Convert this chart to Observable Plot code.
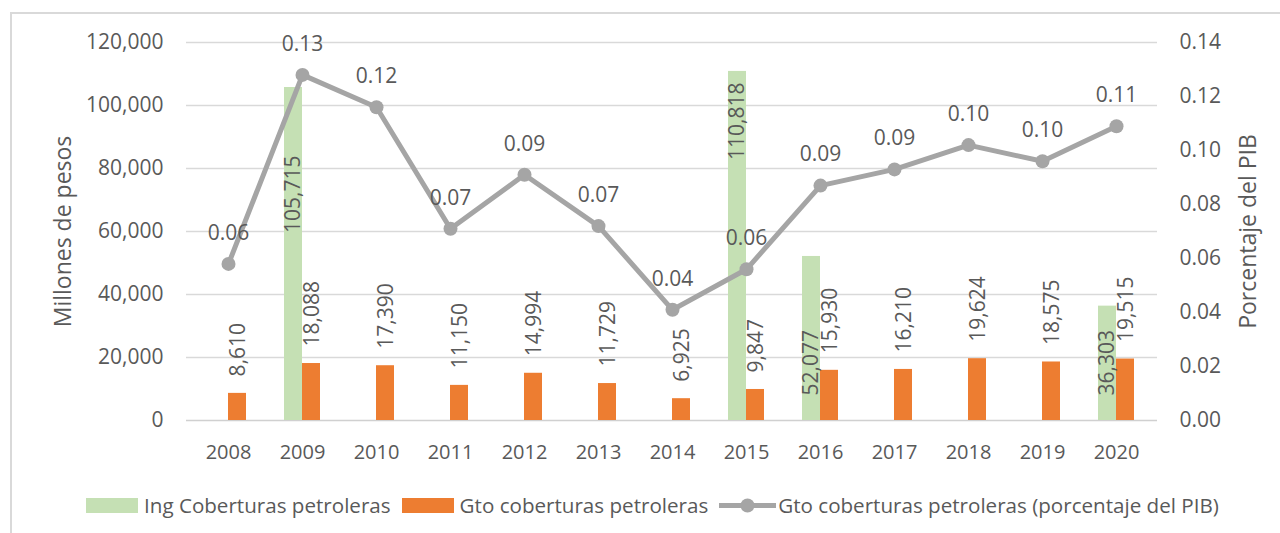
<!DOCTYPE html>
<html>
<head>
<meta charset="utf-8">
<script src="https://cdn.jsdelivr.net/npm/d3@7"></script>
<script src="https://cdn.jsdelivr.net/npm/@observablehq/plot@0.6"></script>
<style>
  html, body { margin: 0; padding: 0; background: #fff; }
  body { width: 1280px; height: 533px; position: relative; overflow: hidden; font-family: "Open Sans", sans-serif; }
  #frame { position: absolute; left: 10px; top: 12px; width: 1400px; height: 600px; border-top: 2px solid #d9d9d9; border-left: 2px solid #d9d9d9; }
  #chart { position: absolute; left: 0; top: 0; }
  #legend { position: absolute; left: 86px; top: 490px; height: 30px; display: flex; align-items: center; font-size: 20.6px; color: #595959; white-space: nowrap; }
  .item { display: flex; align-items: center; margin-right: 11px; }
  .sw { width: 52px; height: 15px; margin-right: 6px; }
  .lsw { width: 57px; height: 15px; margin-right: 2px; }
</style>
</head>
<body>
<div id="frame"></div>
<div id="chart"></div>
<div id="legend"></div>
<script>
const years = [2008, 2009, 2010, 2011, 2012, 2013, 2014, 2015, 2016, 2017, 2018, 2019, 2020];
const ingCoberturas = [null, 105715, null, null, null, null, null, 110818, 52077, null, null, null, 36303];
const gtoCoberturas = [8610, 18088, 17390, 11150, 14994, 11729, 6925, 9847, 15930, 16210, 19624, 18575, 19515];
const gtoPctPIB = [0.058, 0.128, 0.116, 0.071, 0.091, 0.072, 0.041, 0.056, 0.087, 0.093, 0.102, 0.096, 0.109];
const pesosTicks = [0, 20000, 40000, 60000, 80000, 100000, 120000];
const pctTicks = [0, 0.02, 0.04, 0.06, 0.08, 0.10, 0.12, 0.14];
const seriesNames = ["Ing Coberturas petroleras", "Gto coberturas petroleras", "Gto coberturas petroleras (porcentaje del PIB)"];
const colors = ["#c5e0b4", "#ed7d31", "#a5a5a5"];

const K = 120000 / 0.14; // right-axis scale factor
const fmt = d3.format(",");
const ing = years.map((y, i) => ({year: y, v: ingCoberturas[i]})).filter(d => d.v != null);
const gto = years.map((y, i) => ({year: y, v: gtoCoberturas[i]}));
const pct = years.map((y, i) => ({year: y, p: gtoPctPIB[i], v: gtoPctPIB[i] * K}));

// Excel-like label placement for the tall "Ing" bars
const insideBase = new Set([2016, 2020]);
const shifted = new Set([2009]);
const ingTop = ing.filter(d => !insideBase.has(d.year) && !shifted.has(d.year));
const ingShift = ing.filter(d => shifted.has(d.year));
const ingBase = ing.filter(d => insideBase.has(d.year));

const font = 21;
const textFill = "#595959";

const plot = Plot.plot({
  width: 1280,
  height: 470,
  marginTop: 42,
  marginBottom: 50,
  marginLeft: 186,
  marginRight: 123,
  style: {fontFamily: "Open Sans, sans-serif", fontSize: font + "px", color: textFill, background: "transparent"},
  x: {type: "band", domain: years, paddingInner: 0.76, paddingOuter: 0.38},
  y: {domain: [0, 120000]},
  marks: [
    Plot.ruleY(pesosTicks.slice(1), {stroke: "#d9d9d9", strokeWidth: 1.5}),
    Plot.ruleY([0], {stroke: "#d0d0d0", strokeWidth: 1.5}),
    Plot.axisY({ticks: pesosTicks, tickFormat: fmt, tickSize: 0, tickPadding: 23, label: null, fontSize: font}),
    Plot.axisY({anchor: "right", ticks: pctTicks.map(t => t * K), tickFormat: v => (v / K).toFixed(2), tickSize: 0, tickPadding: 22, label: null, fontSize: font}),
    Plot.axisX({tickSize: 0, tickPadding: 24, label: null, tickFormat: d => String(d), fontSize: 20}),
    Plot.barY(ing, {x: "year", y: "v", fill: colors[0], dx: -9}),
    Plot.barY(gto, {x: "year", y: "v", fill: colors[1], dx: 9}),
    Plot.line(pct, {x: "year", y: "v", stroke: colors[2], strokeWidth: 5}),
    Plot.dot(pct, {x: "year", y: "v", r: 7, fill: colors[2], stroke: "none"}),
    Plot.text(pct, {x: "year", y: "v", text: d => d.p.toFixed(2), dy: -31, fill: textFill, fontSize: font}),
    Plot.text(gto, {x: "year", y: "v", text: d => fmt(d.v), rotate: -90, textAnchor: "start", dx: 10, dy: -17, fill: textFill, fontSize: font}),
    Plot.text(ingTop, {x: "year", y: "v", text: d => fmt(d.v), rotate: -90, textAnchor: "end", dx: -9, dy: 11, fill: textFill, fontSize: font}),
    Plot.text(ingShift, {x: "year", y: "v", text: d => fmt(d.v), rotate: -90, textAnchor: "end", dx: -9, dy: 68, fill: textFill, fontSize: font}),
    Plot.text(ingBase, {x: "year", y: () => 0, text: d => fmt(d.v), rotate: -90, textAnchor: "start", dx: -9, dy: -25, fill: textFill, fontSize: font}),
    Plot.text(["Millones de pesos"], {frameAnchor: "left", textAnchor: "middle", dx: -123, rotate: -90, fill: textFill, fontSize: 23}),
    Plot.text(["Porcentaje del PIB"], {frameAnchor: "right", textAnchor: "middle", dx: 91, rotate: -90, fill: textFill, fontSize: 23})
  ]
});
document.getElementById("chart").appendChild(plot);

const legend = document.getElementById("legend");
seriesNames.forEach((name, i) => {
  const item = document.createElement("div");
  item.className = "item";
  if (i < 2) {
    item.innerHTML = `<div class="sw" style="background:${colors[i]}"></div><span>${name}</span>`;
  } else {
    item.innerHTML = `<svg class="lsw" width="57" height="15"><line x1="0" x2="57" y1="7.5" y2="7.5" stroke="${colors[2]}" stroke-width="5"/><circle cx="28.5" cy="7.5" r="7" fill="${colors[2]}"/></svg><span>${name}</span>`;
  }
  legend.appendChild(item);
});
</script>
</body>
</html>
